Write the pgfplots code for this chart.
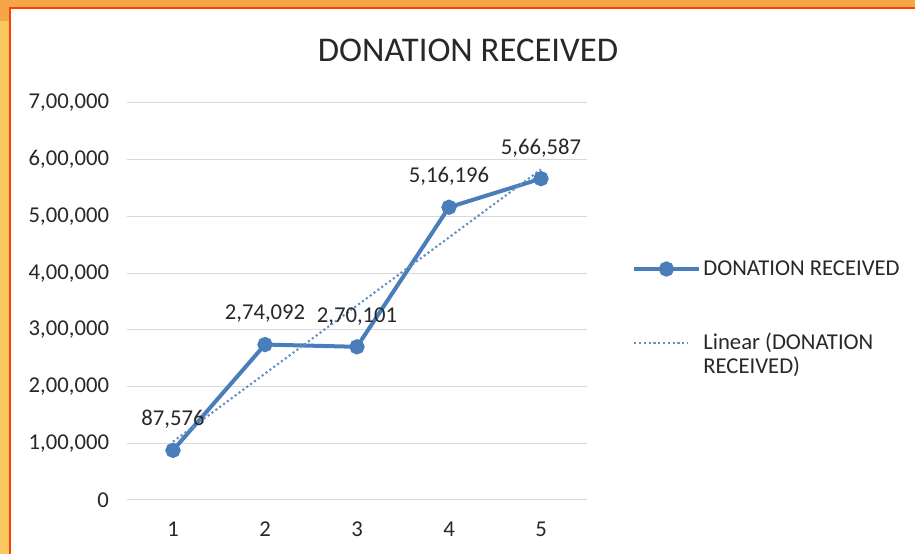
\documentclass[border=0pt]{standalone}
\usepackage{pgfplots}
\pgfplotsset{compat=1.18}
\usepackage{fontspec}
\setmainfont{Carlito}
\definecolor{bgor}{RGB}{244,166,72}
\definecolor{bgyl}{RGB}{250,200,95}
\definecolor{ser}{RGB}{74,126,187}
\definecolor{gridc}{RGB}{217,217,217}
\definecolor{txt}{RGB}{40,40,40}
\pgfplotsset{trendimg/.style={legend image code/.code={\draw[##1] (0cm,0cm) -- (1.4cm,0cm);}}}
\begin{document}
\begin{tikzpicture}
\path[use as bounding box] (0,0) rectangle (686.25pt,415.5pt);
\shade[left color=bgyl,right color=bgor] (0,0) rectangle (686.25pt,415.5pt);
\fill[bgor] (0,400pt) rectangle (686.25pt,415.5pt);
\filldraw[fill=white,draw=red!50!orange,line width=0.8pt] (7.5pt,-2pt) rectangle (690pt,409.5pt);
\node[font=\fontsize{26}{30}\selectfont,text=txt] at (351pt,378pt) {DONATION RECEIVED};
\begin{axis}[
  at={(95.25pt,40.5pt)}, anchor=south west,
  scale only axis, width=345pt, height=297.75pt,
  xmin=0.5, xmax=5.5, ymin=0, ymax=700000,
  xtick={1,2,3,4,5},
  ytick={0,100000,200000,300000,400000,500000,600000,700000},
  yticklabels={0,{1,00,000},{2,00,000},{3,00,000},{4,00,000},{5,00,000},{6,00,000},{7,00,000}},
  scaled y ticks=false,
  axis line style={draw=none},
  major tick length=0pt,
  ymajorgrids, grid style={gridc,line width=0.75pt},
  tick label style={font=\fontsize{17}{20}\selectfont,text=txt},
  /pgf/number format/assume math mode=true,
  yticklabel style={xshift=-10pt},
  xticklabel style={yshift=-13pt},
  clip=false,
  legend style={at={(1.089,0.617)},anchor=north west,draw=none,fill=none,
    font=\fontsize{17}{21}\selectfont,text=txt,row sep=38pt},
  legend cell align=left,
  legend image code/.code={\draw[mark repeat=2,mark phase=2,#1] plot coordinates {(0cm,0cm) (0.85cm,0cm) (1.7cm,0cm)};},
]
\addplot[ser,line width=3pt,mark=*,mark size=4.2pt,mark options={solid,fill=ser,draw=ser},
  point meta=explicit symbolic,
  nodes near coords,
  nodes near coords style={font=\fontsize{17}{20}\selectfont,text=txt,anchor=center,yshift=23pt},
] table[meta=label] {
x y label
1 87576 87,576
2 274092 2,74,092
3 270101 2,70,101
4 516196 5,16,196
5 566587 5,66,587
};
\addlegendentry{DONATION RECEIVED}
\addplot[ser!85,line width=1.6pt,dotted,mark=none,trendimg] coordinates {(1,102885) (5,582936)};
\addlegendentry{\vtop{\hbox{Linear (DONATION}\vskip-3pt\hbox{RECEIVED)}}}
\end{axis}
\end{tikzpicture}
\end{document}
